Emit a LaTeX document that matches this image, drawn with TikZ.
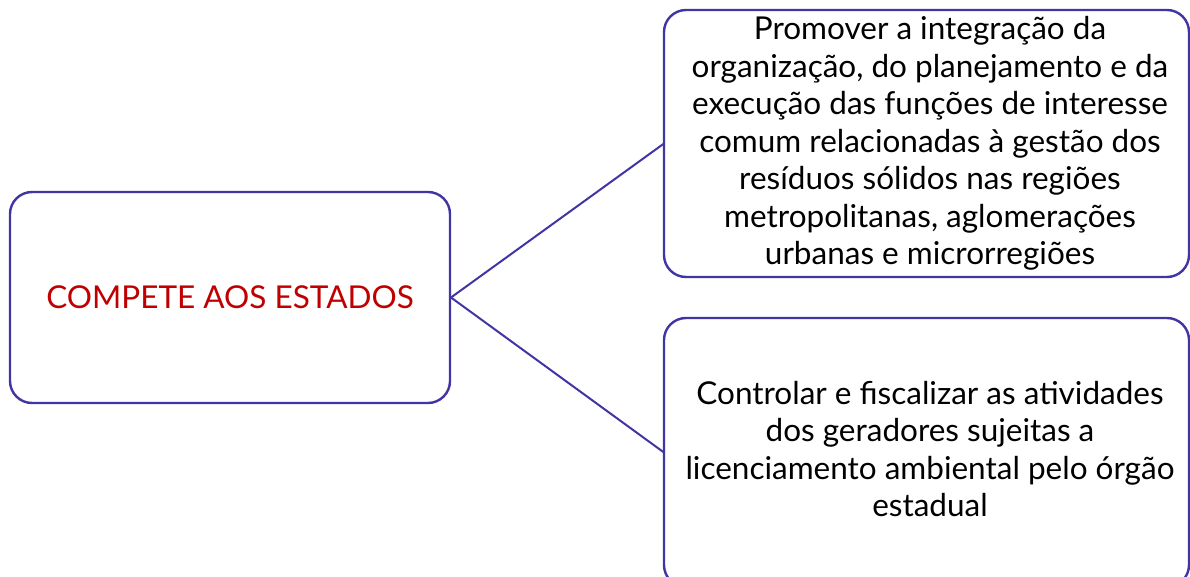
\documentclass[tikz,border=0pt]{standalone}
\usepackage{fontspec}
\setmainfont{Lato}
\definecolor{edge}{HTML}{4035A3}
\definecolor{redtxt}{HTML}{C00000}
\begin{document}
\begin{tikzpicture}[x=1pt,y=-1pt,
  box/.style={draw=edge,line width=2.4pt,rounded corners=22pt,fill=white},
  link/.style={draw=edge,line width=2pt},
  txt/.style={align=center,font=\fontsize{31.5}{37.5}\selectfont,text=black,inner sep=0pt}]
\useasboundingbox (0,0) rectangle (1190,577);
\draw[box] (10,192) rectangle (450,403);
\coordinate (Lr) at (451,297.5);
\draw[box] (664,10) rectangle (1189,277);
\coordinate (Tl) at (664,143.5);
\draw[box] (664,318) rectangle (1189,587);
\coordinate (Bl) at (664,452.5);
\node[txt,text=redtxt] (L) at (230,297.5) {COMPETE AOS ESTADOS};
\node[txt] (T) at (930,143.5) {Promover a integração da\\organização, do planejamento e da\\execução das funções de interesse\\comum relacionadas à gestão dos\\resíduos sólidos nas regiões\\metropolitanas, aglomerações\\urbanas e microrregiões};
\node[txt] (B) at (930,449) {Controlar e fiscalizar as atividades\\dos geradores sujeitas a\\licenciamento ambiental pelo órgão\\estadual};
\draw[link] (Lr) -- (Tl);
\draw[link] (Lr) -- (Bl);
\end{tikzpicture}
\end{document}
